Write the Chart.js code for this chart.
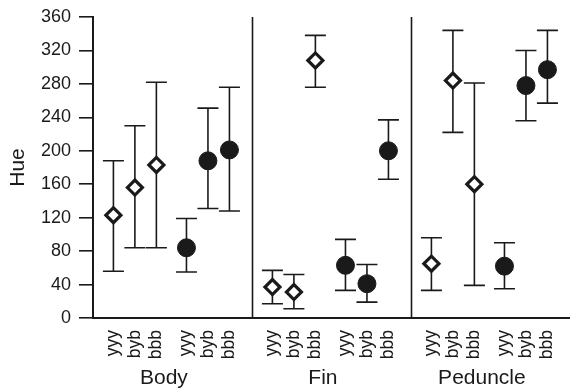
<!DOCTYPE html>
<html>
<head>
<meta charset="utf-8">
<script src="https://cdn.jsdelivr.net/npm/chart.js@4/dist/chart.umd.min.js"></script>
<style>
  html, body { margin: 0; padding: 0; background: #fff; overflow: hidden; }
  #wrap { width: 570px; height: 391px; }
</style>
</head>
<body>
<div id="wrap"><canvas id="hueChart"></canvas></div>
<script>
const regions = ['Body', 'Fin', 'Peduncle'];
const genotypes = ['yyy', 'byb', 'bbb'];
const yTicks = [0, 40, 80, 120, 160, 200, 240, 280, 320, 360];

// open diamonds, 3 genotypes per region (Body, Fin, Peduncle)
const openMean = [123, 156, 183, 37, 31, 308, 65, 284, 160];
const openLow  = [56, 84, 84, 17, 11, 276, 33, 222, 39];
const openHigh = [188, 230, 282, 57, 52, 338, 96, 344, 281];

// filled circles
const filledMean = [84, 188, 201, 63, 41, 200, 62, 278, 297];
const filledLow  = [55, 131, 128, 33, 19, 166, 35, 236, 257];
const filledHigh = [119, 251, 276, 94, 64, 237, 90, 320, 344];

// layout of the x axis (in axis units)
const panelWidth = 7.4;
const slotOffset = [0.95, 1.95, 2.95, 4.35, 5.35, 6.35];
const labelOffset = 3.3;
const ink = '#1a1a1a';

function slotX(i, shift) {
    const r = Math.floor(i / 3);
    return r * panelWidth + slotOffset[(i % 3) + shift];
}

function buildPoints(mean, low, high, shift) {
    return mean.map((m, i) => ({ x: slotX(i, shift), y: m, low: low[i], high: high[i] }));
}

const tickPositions = [];
const tickNames = [];
regions.forEach((r, ri) => {
    slotOffset.forEach((o, k) => {
        tickPositions.push(ri * panelWidth + o);
        tickNames.push(genotypes[k % 3]);
    });
});

const errorBars = {
    id: 'errorBars',
    beforeDatasetsDraw(chart) {
        const { ctx, chartArea, scales: { x, y } } = chart;
        ctx.save();
        ctx.strokeStyle = ink;
        ctx.lineWidth = 1.6;
        chart.data.datasets.forEach(ds => {
            ds.data.forEach(p => {
                const px = x.getPixelForValue(p.x);
                const top = y.getPixelForValue(p.high);
                const bot = y.getPixelForValue(p.low);
                ctx.beginPath();
                ctx.moveTo(px, top); ctx.lineTo(px, bot);
                ctx.moveTo(px - 10.5, top); ctx.lineTo(px + 10.5, top);
                ctx.moveTo(px - 10.5, bot); ctx.lineTo(px + 10.5, bot);
                ctx.stroke();
            });
        });
        // region dividers
        for (let r = 1; r < regions.length; r++) {
            const px = Math.round(x.getPixelForValue(r * panelWidth)) + 0.5;
            ctx.beginPath();
            ctx.moveTo(px, chartArea.top);
            ctx.lineTo(px, chartArea.bottom + 1);
            ctx.stroke();
        }
        ctx.restore();
    }
};

new Chart(document.getElementById('hueChart'), {
    type: 'scatter',
    data: {
        datasets: [
            {
                label: 'open',
                data: buildPoints(openMean, openLow, openHigh, 0),
                pointStyle: 'rectRot',
                pointRadius: 7.5,
                pointBackgroundColor: '#fff',
                pointBorderColor: ink,
                pointBorderWidth: 3.2
            },
            {
                label: 'filled',
                data: buildPoints(filledMean, filledLow, filledHigh, 3),
                pointStyle: 'circle',
                pointRadius: 9,
                pointBackgroundColor: ink,
                pointBorderColor: ink,
                pointBorderWidth: 1
            }
        ]
    },
    options: {
        responsive: true,
        maintainAspectRatio: false,
        animation: false,
        layout: { autoPadding: false, padding: { top: 17, right: 0, bottom: 0, left: 0 } },
        plugins: { legend: { display: false }, tooltip: { enabled: false } },
        scales: {
            x: {
                type: 'linear',
                position: 'bottom',
                min: 0,
                max: panelWidth * regions.length,
                afterBuildTicks: s => { s.ticks = tickPositions.map(v => ({ value: v })); },
                afterFit: s => { s.height = 40; s.paddingLeft = 0; s.paddingRight = 0; },
                ticks: {
                    autoSkip: false,
                    minRotation: 90,
                    maxRotation: 90,
                    padding: 4,
                    color: ink,
                    font: { family: 'Liberation Sans', size: 17.5 },
                    callback: (v, i) => tickNames[i]
                },
                grid: { display: false },
                border: { display: true, color: ink, width: 2 }
            },
            regionAxis: {
                type: 'linear',
                position: 'bottom',
                min: 0,
                max: panelWidth * regions.length,
                afterBuildTicks: s => { s.ticks = regions.map((r, i) => ({ value: i * panelWidth + labelOffset })); },
                afterFit: s => { s.height = 33; s.paddingLeft = 0; s.paddingRight = 0; },
                ticks: {
                    autoSkip: false,
                    minRotation: 0,
                    maxRotation: 0,
                    padding: 0,
                    color: ink,
                    font: { family: 'Liberation Sans', size: 21 },
                    callback: (v, i) => regions[i]
                },
                grid: { display: false },
                border: { display: false }
            },
            y: {
                min: 0,
                max: 360,
                afterBuildTicks: s => { s.ticks = yTicks.map(v => ({ value: v })); },
                afterFit: s => { s.width = 93; s.paddingTop = 0; s.paddingBottom = 0; },
                ticks: {
                    padding: 8,
                    color: ink,
                    font: { family: 'Liberation Sans', size: 18 }
                },
                grid: { drawOnChartArea: false, tickLength: 14, color: ink, lineWidth: 1.6 },
                border: { display: true, color: ink, width: 2 },
                title: {
                    display: true,
                    text: 'Hue',
                    color: ink,
                    padding: { top: 6, bottom: 0 },
                    font: { family: 'Liberation Sans', size: 21 }
                }
            }
        }
    },
    plugins: [errorBars]
});
</script>
</body>
</html>
